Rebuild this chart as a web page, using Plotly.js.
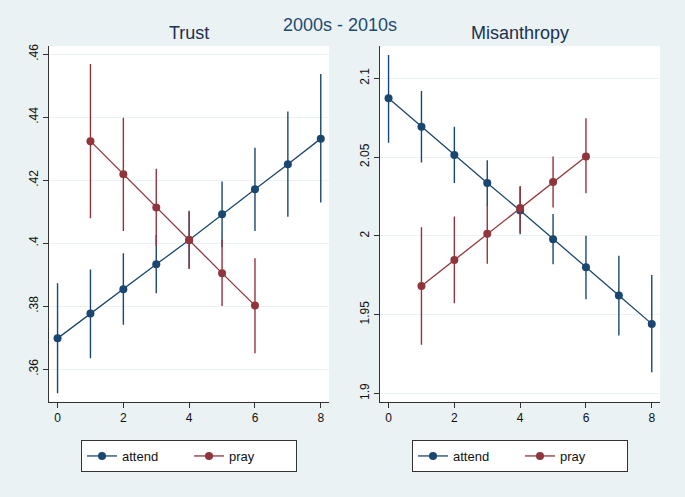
<!DOCTYPE html>
<html>
<head>
<meta charset="utf-8">
<script src="https://cdn.plot.ly/plotly-3.0.1.min.js"></script>
<style>html,body{margin:0;padding:0;background:#EAF2F3;}#chart{width:685px;height:497px;}</style>
</head>
<body>
<div id="chart"></div>
<script>
// ---- data ----
const attendX = [0, 1, 2, 3, 4, 5, 6, 7, 8];
const prayX = [1, 2, 3, 4, 5, 6];

const trustAttend   = [0.3698, 0.3777, 0.3854, 0.3933, 0.4010, 0.4092, 0.4171, 0.4251, 0.4332];
const trustAttendLo = [0.3524, 0.3635, 0.3741, 0.3841, 0.3920, 0.3988, 0.4039, 0.4084, 0.4129];
const trustAttendHi = [0.3873, 0.3917, 0.3968, 0.4026, 0.4100, 0.4196, 0.4303, 0.4418, 0.4537];

const trustPray   = [0.4324, 0.4219, 0.4113, 0.4010, 0.3905, 0.3802];
const trustPrayLo = [0.4079, 0.4039, 0.3991, 0.3918, 0.3801, 0.3651];
const trustPrayHi = [0.4569, 0.4398, 0.4236, 0.4103, 0.4011, 0.3952];

const misAttend   = [2.0873, 2.0692, 2.0513, 2.0335, 2.0161, 1.9979, 1.9801, 1.9621, 1.9441];
const misAttendLo = [2.0591, 2.0466, 2.0335, 2.0191, 2.0010, 1.9820, 1.9598, 1.9367, 1.9134];
const misAttendHi = [2.1148, 2.0919, 2.0692, 2.0479, 2.0310, 2.0138, 2.0000, 1.9873, 1.9752];

const misPray   = [1.9682, 1.9847, 2.0013, 2.0176, 2.0341, 2.0504];
const misPrayLo = [1.9308, 1.9572, 1.9822, 2.0019, 2.0180, 2.0270];
const misPrayHi = [2.0055, 2.0123, 2.0201, 2.0317, 2.0504, 2.0746];

const xTicks = [0, 2, 4, 6, 8];
const trustTickVals = [0.36, 0.38, 0.40, 0.42, 0.44, 0.46];
const trustTickText = ['.36', '.38', '.4', '.42', '.44', '.46'];
const misTickVals = [1.9, 1.95, 2.0, 2.05, 2.1];
const misTickText = ['1.9', '1.95', '2', '2.05', '2.1'];

const mainTitle = '2000s - 2010s';
const panelTitles = ['Trust', 'Misanthropy'];
const seriesNames = ['attend', 'pray'];

// ---- styles ----
const NAVY = '#1a476f';
const MAROON = '#90353b';
const BG = '#EAF2F3';
const FONT = 'Liberation Sans, Arial, sans-serif';

function trace(x, y, lo, hi, color, name, xa, ya, leg) {
  return {
    x: x, y: y, type: 'scatter', mode: 'lines+markers', name: name,
    xaxis: xa, yaxis: ya, legend: leg,
    line: {color: color, width: 1.3},
    marker: {color: color, size: 8},
    error_y: {
      type: 'data', symmetric: false,
      array: hi.map((h, i) => h - y[i]),
      arrayminus: lo.map((l, i) => y[i] - l),
      color: color, thickness: 1.4, width: 0
    }
  };
}

const data = [
  trace(attendX, trustAttend, trustAttendLo, trustAttendHi, NAVY, seriesNames[0], 'x', 'y', 'legend'),
  trace(prayX, trustPray, trustPrayLo, trustPrayHi, MAROON, seriesNames[1], 'x', 'y', 'legend'),
  trace(attendX, misAttend, misAttendLo, misAttendHi, NAVY, seriesNames[0], 'x2', 'y2', 'legend2'),
  trace(prayX, misPray, misPrayLo, misPrayHi, MAROON, seriesNames[1], 'x2', 'y2', 'legend2')
];

const W = 685, H = 497;
const yDom = [(H - 401.7) / H, (H - 46) / H];

function xaxis(dom, anchor) {
  return {
    domain: dom, anchor: anchor, range: [-0.26, 8.25],
    tickvals: xTicks, ticks: 'outside', ticklen: 5, tickwidth: 1, tickcolor: '#333',
    showline: true, linecolor: '#333', linewidth: 1, mirror: false,
    showgrid: false, zeroline: false,
    tickfont: {family: FONT, size: 12, color: '#111'}
  };
}
function yaxis(dom, anchor, range, vals, text) {
  return {
    domain: dom, anchor: anchor, range: range,
    tickvals: vals, ticktext: text, tickangle: -90,
    ticks: 'outside', ticklen: 5, tickwidth: 1, tickcolor: '#333',
    showline: true, linecolor: '#333', linewidth: 1,
    showgrid: true, gridcolor: BG, gridwidth: 1, zeroline: false,
    tickfont: {family: FONT, size: 12, color: '#111'}
  };
}

function legend(cx) {
  return {
    orientation: 'h', x: cx / W, y: (H - 456) / H, xanchor: 'center', yanchor: 'middle',
    xref: 'paper', yref: 'paper',
    bgcolor: '#ffffff', bordercolor: '#333', borderwidth: 1,
    font: {family: FONT, size: 13, color: '#111'},
    entrywidth: 62, itemclick: false
  };
}

const layout = {
  width: W, height: H,
  paper_bgcolor: BG, plot_bgcolor: '#ffffff',
  margin: {l: 0, r: 0, t: 0, b: 0},
  showlegend: true,
  xaxis: xaxis([49 / W, 329 / W], 'y'),
  yaxis: yaxis(yDom, 'x', [0.3497, 0.4626], trustTickVals, trustTickText),
  xaxis2: xaxis([380 / W, 660 / W], 'y2'),
  yaxis2: yaxis(yDom, 'x2', [1.8947, 2.1205], misTickVals, misTickText),
  legend: legend(189),
  legend2: legend(520),
  annotations: [
    {text: mainTitle, x: 340 / W, y: (H - 25) / H, xref: 'paper', yref: 'paper',
     showarrow: false, xanchor: 'center', yanchor: 'middle',
     font: {family: FONT, size: 18, color: '#1e4a72'}},
    {text: panelTitles[0], x: 189.5 / W, y: (H - 33) / H, xref: 'paper', yref: 'paper',
     showarrow: false, xanchor: 'center', yanchor: 'middle',
     font: {family: FONT, size: 18, color: '#1e3050'}},
    {text: panelTitles[1], x: 520 / W, y: (H - 33) / H, xref: 'paper', yref: 'paper',
     showarrow: false, xanchor: 'center', yanchor: 'middle',
     font: {family: FONT, size: 18, color: '#1e3050'}}
  ]
};

Plotly.newPlot('chart', data, layout, {displayModeBar: false, staticPlot: true});
</script>
</body>
</html>
